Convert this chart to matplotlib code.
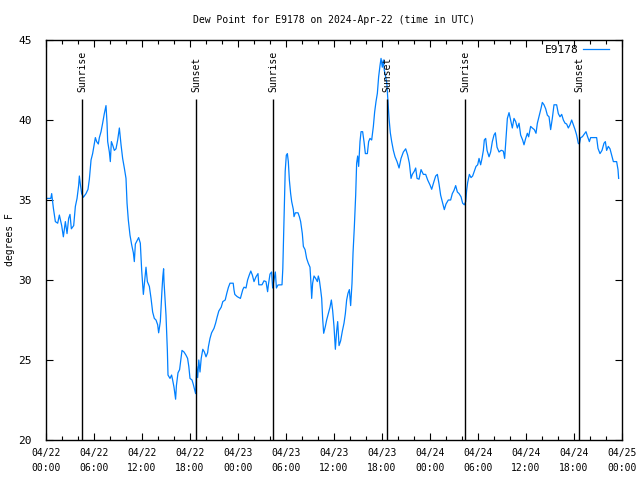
import matplotlib
matplotlib.use('Agg')
import matplotlib.pyplot as plt

# hours since 2024-04-22 00:00 UTC
hours = [0.0, 0.6, 0.71, 0.92, 1.17, 1.46, 1.67, 1.96, 2.17, 2.42, 2.63, 2.83, 3.0, 3.17, 3.46,
         3.67, 3.88, 4.08, 4.17, 4.29, 4.46, 4.67, 5.0, 5.25, 5.42, 5.63, 5.83, 6.04, 6.17, 6.33,
         6.54, 6.67, 6.88, 7.08, 7.29, 7.5, 7.63, 7.71, 7.92, 8.04, 8.17, 8.33, 8.54, 8.75, 8.96,
         9.17, 9.38, 9.58, 9.79, 10.0, 10.13, 10.29, 10.5, 10.71, 10.92, 11.04, 11.17, 11.38, 11.58,
         11.79, 11.96, 12.17, 12.33, 12.5, 12.67, 12.92, 13.13, 13.33, 13.54, 13.75, 13.96, 14.08,
         14.29, 14.38, 14.5, 14.6, 14.7, 14.75, 15.0, 15.17, 15.25, 15.5, 15.7, 15.83, 16.0, 16.2,
         16.3, 16.5, 16.7, 16.8, 17.0, 17.25, 17.5, 17.7, 17.85, 18.0, 18.25, 18.4, 18.6, 18.7,
         18.83, 18.96, 19.1, 19.25, 19.4, 19.6, 19.8, 20.0, 20.2, 20.3, 20.5, 20.7, 21.0, 21.2,
         21.4, 21.6, 21.9, 22.1, 22.4, 22.6, 22.8, 23.0, 23.4, 23.5, 23.6, 23.9, 24.3, 24.6, 24.75,
         25.0, 25.2, 25.4, 25.6, 25.8, 26.0, 26.25, 26.5, 26.6, 27.0, 27.25, 27.5, 27.7, 27.8, 28.0,
         28.2, 28.33, 28.5, 28.67, 28.8, 29.0, 29.5, 29.6, 29.7, 29.8, 29.9, 30.04, 30.17, 30.29,
         30.42, 30.58, 30.71, 30.92, 31.0, 31.17, 31.5, 31.67, 31.83, 32.04, 32.17, 32.38, 32.58,
         32.79, 33.0, 33.13, 33.21, 33.33, 33.5, 33.71, 33.92, 34.04, 34.17, 34.33, 34.46, 34.58,
         34.71, 34.92, 35.08, 35.29, 35.5, 35.67, 35.83, 36.0, 36.17, 36.33, 36.46, 36.63, 36.83,
         37.04, 37.25, 37.42, 37.58, 37.75, 37.92, 38.08, 38.25, 38.38, 38.54, 38.71, 38.83, 38.96,
         39.08, 39.25, 39.38, 39.58, 39.75, 39.92, 40.17, 40.33, 40.5, 40.71, 40.92, 41.08, 41.25,
         41.42, 41.58, 41.75, 41.88, 42.04, 42.17, 42.29, 42.46, 42.6, 42.67, 42.88, 43.04, 43.21,
         43.42, 43.63, 43.88, 44.13, 44.38, 44.67, 44.96, 45.21, 45.42, 45.63, 45.79, 46.04, 46.21,
         46.38, 46.63, 46.88, 47.17, 47.46, 47.71, 48.0, 48.21, 48.46, 48.71, 48.92, 49.13, 49.33,
         49.54, 49.79, 50.0, 50.29, 50.58, 50.79, 51.0, 51.21, 51.42, 51.63, 51.88, 52.08, 52.29,
         52.46, 52.58, 52.71, 52.92, 53.13, 53.33, 53.54, 53.75, 53.96, 54.13, 54.33, 54.5, 54.67,
         54.79, 54.96, 55.13, 55.38, 55.58, 55.79, 56.0, 56.17, 56.38, 56.63, 56.88, 56.96, 57.17,
         57.33, 57.5, 57.67, 57.88, 58.08, 58.29, 58.5, 58.71, 58.92, 59.13, 59.33, 59.58, 59.75,
         59.96, 60.17, 60.33, 60.58, 60.79, 61.04, 61.25, 61.42, 61.67, 61.88, 62.04, 62.25, 62.46,
         62.67, 62.88, 63.08, 63.29, 63.5, 63.83, 64.04, 64.25, 64.46, 64.67, 64.88, 65.08, 65.29,
         65.5, 65.71, 65.92, 66.13, 66.33, 66.54, 66.67, 66.83, 67.04, 67.25, 67.5, 67.67, 67.92,
         68.08, 68.83, 69.0, 69.25, 69.5, 69.75, 69.92, 70.08, 70.29, 70.5, 70.71, 70.92, 71.33,
         71.5, 71.58]

dew_point = [35.1, 35.1, 35.4, 34.5, 33.65, 33.55, 34.06, 33.4, 32.7, 33.65, 32.9, 33.85, 34.1, 33.2, 33.4,
             34.6, 35.1, 35.9, 36.5, 36.0, 35.4, 35.17, 35.4, 35.67, 36.3, 37.5, 37.9, 38.5, 38.9, 38.65,
             38.5, 38.9, 39.27, 39.8, 40.4, 40.9, 39.8, 38.65, 38.0, 37.4, 38.65, 38.44, 38.1, 38.2, 38.75,
             39.5, 38.45, 37.6, 37.0, 36.35, 34.8, 33.75, 32.8, 32.2, 31.7, 31.15, 32.25, 32.46, 32.65,
             32.3, 30.6, 29.1, 29.9, 30.8, 29.9, 29.6, 28.85, 28.0, 27.6, 27.5, 27.2, 26.7,
             27.4, 28.3, 29.4, 30.2, 30.7, 29.9, 27.8, 25.6, 24.06, 23.85, 24.06, 23.75, 23.3, 22.55,
             23.4, 24.2, 24.4, 24.8, 25.6, 25.5, 25.3, 25.1, 24.6, 23.85, 23.75, 23.5, 23.1, 22.9,
             24.6, 23.9, 25.0, 24.25, 25.1, 25.67, 25.5, 25.2, 25.45, 25.83, 26.35, 26.7, 26.98, 27.3,
             27.7, 28.06, 28.3, 28.65, 28.75, 29.17, 29.54, 29.8, 29.8, 29.38, 29.1, 28.96, 28.85, 29.4, 29.55,
             29.5, 30.0, 30.3, 30.56, 30.3, 29.9, 30.2, 30.4, 29.7, 29.7, 29.95, 29.9, 29.27, 29.7, 30.37,
             30.5, 29.5, 30.0, 30.5, 29.5, 29.69, 29.7, 30.7, 32.7, 34.7, 36.8, 37.8, 37.9, 37.4,
             36.25, 35.4, 34.9, 34.4, 33.96, 34.2, 34.2, 33.96, 33.65, 32.9, 32.1, 31.9, 31.35,
             31.04, 30.8, 29.7, 28.85, 29.8, 30.25, 30.1, 29.9, 30.25, 30.0, 29.4, 28.85, 27.6,
             26.67, 27.1, 27.5, 27.9, 28.3, 28.75, 28.1, 27.1, 25.67, 26.8, 27.4, 25.9, 26.2,
             26.8, 27.3, 27.9, 28.75, 29.17, 29.4, 28.4, 29.8, 31.7, 33.3, 35.3, 37.3, 37.75,
             37.1, 38.65, 39.27, 39.27, 38.65, 37.9, 37.9, 38.65, 38.85, 38.75, 39.6, 40.5, 41.15,
             41.67, 42.7, 43.4, 43.85, 43.3, 43.75, 43.1, 42.7, 42.3, 41.77, 40.1, 39.2, 38.65,
             38.1, 37.7, 37.4, 37.0, 37.6, 38.0, 38.2, 37.8, 37.3, 36.35, 36.6, 36.8, 37.0,
             36.35, 36.3, 36.9, 36.6, 36.6, 36.25, 35.94, 35.67, 36.1, 36.5, 36.6, 36.0, 35.3,
             34.9, 34.4, 34.75, 35.0, 35.0, 35.4, 35.6, 35.9, 35.5, 35.4, 35.2, 34.8, 34.7,
             34.9, 35.6, 36.1, 36.6, 36.4, 36.5, 36.8, 37.1, 37.2, 37.6, 37.2, 37.6, 38.1,
             38.75, 38.85, 38.1, 37.7, 38.0, 38.65, 39.06, 39.2, 38.3, 38.0, 38.1, 38.1, 38.05,
             37.6, 38.85, 40.1, 40.46, 40.0, 39.5, 40.1, 39.9, 39.5, 39.8, 39.06, 38.75, 38.45,
             38.85, 39.17, 38.95, 39.6, 39.5, 39.4, 39.17, 39.8, 40.3, 40.73, 41.1, 40.95, 40.7,
             40.3, 40.2, 39.4, 40.1, 40.95, 40.95, 40.4, 40.2, 40.35, 40.0, 39.8, 39.75, 39.5,
             39.7, 40.0, 39.7, 39.4, 39.06, 38.54, 38.5, 38.9, 38.95, 39.1, 39.27, 39.0, 38.65,
             38.9, 38.9, 38.23, 37.9, 38.1, 38.55, 38.65, 38.1, 38.35, 38.2, 37.8, 37.4, 37.4,
             36.9, 36.35]

sun_events = [4.53, 18.8, 28.43, 42.68, 52.42, 66.68]
sun_labels = ['Sunrise', 'Sunset', 'Sunrise', 'Sunset', 'Sunrise', 'Sunset']

tick_hours = list(range(0, 73, 6))
tick_labels = ['04/22\n00:00', '04/22\n06:00', '04/22\n12:00', '04/22\n18:00',
               '04/23\n00:00', '04/23\n06:00', '04/23\n12:00', '04/23\n18:00',
               '04/24\n00:00', '04/24\n06:00', '04/24\n12:00', '04/24\n18:00',
               '04/25\n00:00']

plt.rcParams['font.family'] = 'DejaVu Sans Mono'
fs = 7

fig = plt.figure(figsize=(6.4, 4.8), dpi=100)
ax = fig.add_axes([46 / 640, 40 / 480, 576 / 640, 400 / 480])

ax.plot(hours, dew_point, color='#0080ff', linewidth=0.9, label='E9178')

for h, lab in zip(sun_events, sun_labels):
    ax.vlines(h, 20, 41.3, color='black', linewidth=1.0)
    ax.text(h, 41.75, lab, rotation=90, ha='center', va='bottom', fontsize=fs)

ax.set_xlim(0, 72)
ax.set_ylim(20, 45)
ax.set_xticks(tick_hours)
ax.set_xticklabels(tick_labels, fontsize=fs)
for lbl in ax.get_xticklabels():
    lbl.set_linespacing(1.55)
ax.set_xticks(range(0, 73, 2), minor=True)
ax.set_yticks(range(20, 46, 5))
ax.tick_params(which='major', direction='in', top=True, right=True, length=5, width=0.8)
ax.tick_params(which='minor', direction='in', top=True, right=True, length=3, width=0.8)
ax.tick_params(axis='x', pad=6)
ax.tick_params(axis='y', labelsize=fs + 1, pad=10)
for s in ax.spines.values():
    s.set_linewidth(1.0)

ax.set_ylabel('degrees F', fontsize=fs)
ax.yaxis.set_label_coords(-0.054, 0.5)
ax.set_title('Dew Point for E9178 on 2024-Apr-22 (time in UTC)', fontsize=fs, pad=12)
ax.legend(loc='upper right', bbox_to_anchor=(1 - 6 / 576, 1 + 2 / 400), frameon=False,
          markerfirst=False, fontsize=fs + 1, handlelength=2.4, handletextpad=0.4,
          borderaxespad=0.2)

fig.savefig('out.png', dpi=100)
